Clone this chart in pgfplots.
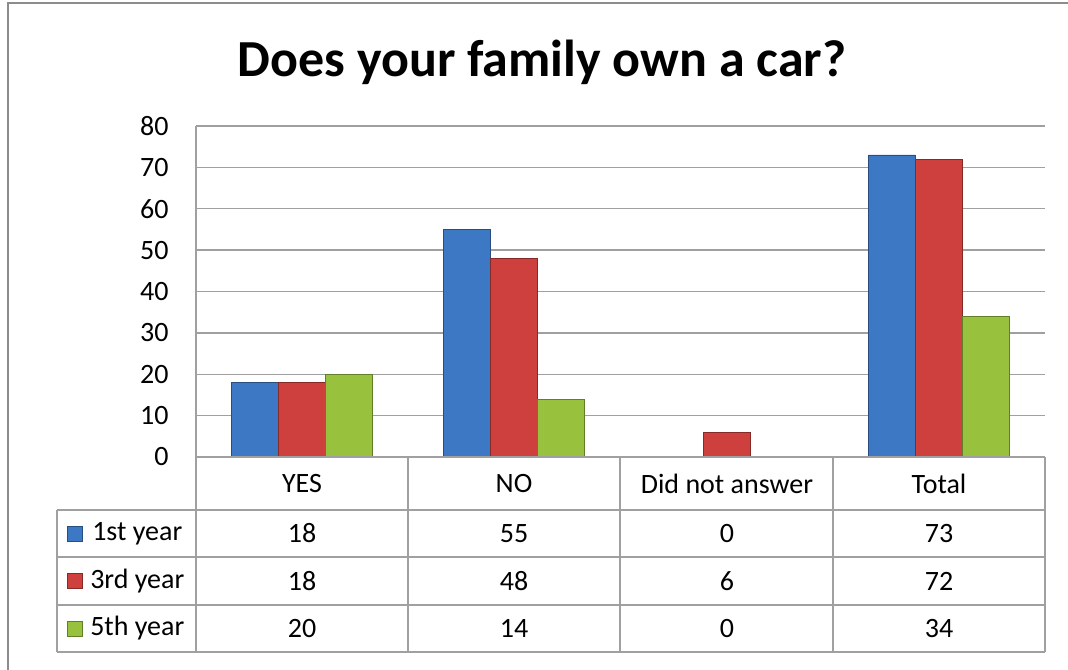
\documentclass[border=0pt]{standalone}
\usepackage{pgfplots}
\pgfplotsset{compat=1.18}
\usepackage{fontspec}
\setmainfont{Carlito}
\definecolor{cblue}{HTML}{3C78C4}
\definecolor{cred}{HTML}{CE403E}
\definecolor{cgreen}{HTML}{98C23E}
\definecolor{gridc}{HTML}{A0A0A0}
\definecolor{framec}{HTML}{8C8C8C}
\pgfplotstableread{
x first third fifth
0 18 18 20
1 55 48 14
2 0 6 0
3 73 72 34
}\datatable
\begin{document}
\begin{tikzpicture}[x=0.75pt,y=0.75pt]
\useasboundingbox (0,0) rectangle (1068,669);
\begin{scope}
\clip (0,0) rectangle (1068,669);
\draw[framec, line width=1.5pt] (8,-10) -- (8,666) -- (1080,666);
\end{scope}
\node[font=\fontsize{39}{44}\selectfont\bfseries] at (542,607) {Does your family own a car?};
\coordinate (A) at (196,212);
\begin{axis}[
  at={(A)}, anchor=south west,
  scale only axis, width=636.75pt, height=248.25pt,
  xmin=-0.5, xmax=3.5, ymin=0, ymax=80,
  ytick={0,10,...,80},
  xtick=\empty,
  ymajorgrids, grid style={gridc, line width=1.1pt},
  axis lines=left, axis line style={-, gridc, line width=1.1pt},
  major tick length=0pt,
  yticklabel style={font=\fontsize{21}{25}\selectfont, xshift=-17pt},
  /pgf/number format/assume math mode=true,
  ybar=0pt, bar width=35.25pt,
  clip=false,
]
\addplot[fill=cblue, draw=cblue!65!black, line width=0.6pt] table[x=x,y=first] {\datatable};
\addplot[fill=cred, draw=cred!65!black, line width=0.6pt] table[x=x,y=third] {\datatable};
\addplot[fill=cgreen, draw=cgreen!65!black, line width=0.6pt] table[x=x,y=fifth] {\datatable};
\end{axis}
% data table
\begin{scope}[gridc, line width=1.1pt]
\draw (196,212) -- (196,17);
\foreach \xx in {408,620,833,1045} \draw (\xx,212) -- (\xx,17);
\draw (57,159) -- (57,17);
\foreach \yy in {159,112,64,17} \draw (57,\yy) -- (1045,\yy);
\draw (196,212) -- (1045,212);
\end{scope}
\begin{scope}[font=\fontsize{21}{25}\selectfont]
\node at (302,185.5) {YES};
\node at (514,185.5) {NO};
\node at (727,185.5) {Did not answer};
\node at (939,185.5) {Total};
\fill[cblue] (67,128) rectangle (82,143); \draw[cblue!65!black, line width=0.5pt] (67,128) rectangle (82,143);
\fill[cred] (67,80.5) rectangle (82,95.5); \draw[cred!65!black, line width=0.5pt] (67,80.5) rectangle (82,95.5);
\fill[cgreen] (67,33) rectangle (82,48); \draw[cgreen!65!black, line width=0.5pt] (67,33) rectangle (82,48);
\node[anchor=west, inner sep=0pt] at (92,135.5) {1st year};
\node[anchor=west, inner sep=0pt] at (90,88) {3rd year};
\node[anchor=west, inner sep=0pt] at (90,40.5) {5th year};
\node at (302,135.5) {18}; \node at (514,135.5) {55}; \node at (727,135.5) {0}; \node at (939,135.5) {73};
\node at (302,88) {18}; \node at (514,88) {48}; \node at (727,88) {6}; \node at (939,88) {72};
\node at (302,40.5) {20}; \node at (514,40.5) {14}; \node at (727,40.5) {0}; \node at (939,40.5) {34};
\end{scope}
\end{tikzpicture}
\end{document}
